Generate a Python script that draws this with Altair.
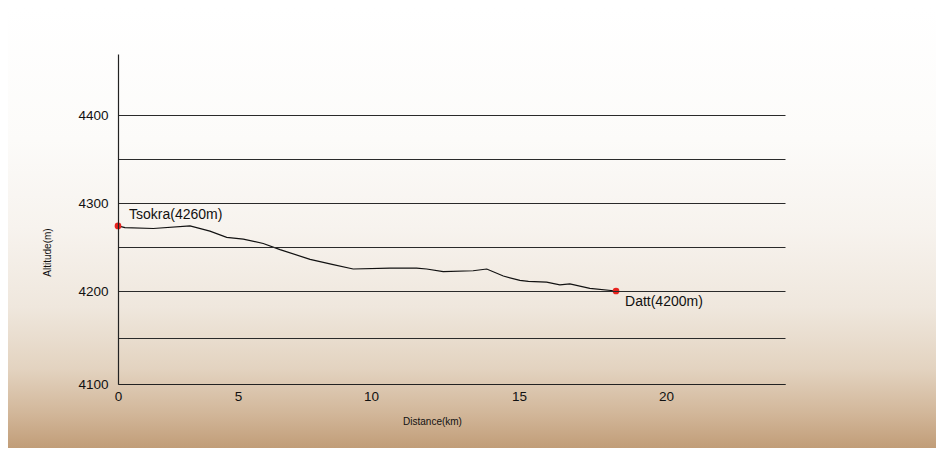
import altair as alt
import pandas as pd

# Altitude profile
distance_km = [0, 0.29, 1.47, 3.0, 3.83, 4.53, 5.2, 5.95, 6.58, 7.71, 8.58, 9.33,
               10.64, 11.54, 11.88, 12.44, 13.45, 13.91, 14.47, 15.03, 15.32, 15.94,
               16.39, 16.73, 17.41, 18.3]
altitude_m = [4274, 4272, 4271, 4274, 4268, 4261, 4259, 4254, 4247, 4236, 4230, 4225,
              4226, 4226, 4225, 4222, 4223, 4225, 4217, 4212, 4211, 4210,
              4207, 4208, 4203, 4200]

place_names = ["Tsokra(4260m)", "Datt(4200m)"]
place_km = [0, 18.3]
place_alt = [4274, 4200]

x_ticks = [0, 5, 10, 15, 20]
y_grid = [4100, 4150, 4200, 4250, 4300, 4350, 4400]

profile = pd.DataFrame({"km": distance_km, "alt": altitude_m})
places = pd.DataFrame({"name": place_names, "km": place_km, "alt": place_alt})

FONT = "Liberation Sans"

xscale = alt.Scale(domain=[0, 5, 10, 15, 20, 24], range=[0, 120, 253, 401, 548, 667],
                   nice=False, zero=False)
yscale = alt.Scale(domain=[4100, 4200, 4300, 4400, 4468], range=[330, 237, 149, 61, 0],
                   nice=False, zero=False)

bg = alt.Chart(pd.DataFrame({"a": [0]})).mark_rect(
    fill=alt.Gradient(
        gradient="linear", x1=0, x2=0, y1=0, y2=1,
        stops=[
            alt.GradientStop(color="#ffffff", offset=0),
            alt.GradientStop(color="#fcfbf9", offset=0.3),
            alt.GradientStop(color="#f7f3ee", offset=0.5),
            alt.GradientStop(color="#efe7dd", offset=0.68),
            alt.GradientStop(color="#e3d3c0", offset=0.82),
            alt.GradientStop(color="#d2b79a", offset=0.92),
            alt.GradientStop(color="#c19d78", offset=1.0),
        ],
    )
).encode(
    x=alt.value(-110), x2=alt.value(818), y=alt.value(-46), y2=alt.value(394)
)

line = alt.Chart(profile).mark_line(color="#111111", strokeWidth=1.2).encode(
    x=alt.X("km:Q", scale=xscale,
            axis=alt.Axis(values=x_ticks, title="Distance(km)", grid=False, ticks=False,
                          domainColor="#222222", domainWidth=1.2, zindex=1,
                          labelFontSize=13.5, labelColor="#111111", labelFont=FONT,
                          labelPadding=5, labelFlush=False,
                          titleFontSize=10, titleFont=FONT, titleFontWeight="normal",
                          titleColor="#111111", titleX=314, titleY=37,
                          titleBaseline="middle", titleAlign="center")),
    y=alt.Y("alt:Q", scale=yscale,
            axis=alt.Axis(values=y_grid, format="d",
                          labelExpr="datum.value % 100 == 0 ? datum.label : ''",
                          title="Altitude(m)", grid=True, gridColor="#2a2a2a",
                          gridWidth=1, ticks=False, zindex=1,
                          domainColor="#222222", domainWidth=1.2,
                          labelFontSize=13.5, labelColor="#111111", labelFont=FONT,
                          labelPadding=10,
                          titleFontSize=10, titleFont=FONT, titleFontWeight="normal",
                          titleColor="#111111", titleX=-71, titleY=198,
                          titleBaseline="middle", titleAlign="center")),
)

pts = alt.Chart(places).mark_circle(color="#e8231e", size=45, opacity=1).encode(
    x=alt.X("km:Q", scale=xscale), y=alt.Y("alt:Q", scale=yscale)
)

lbl_t = alt.Chart(places[places["name"] == place_names[0]]).mark_text(
    align="left", baseline="middle", dx=11, dy=-11, fontSize=14, font=FONT, color="#111111"
).encode(x=alt.X("km:Q", scale=xscale), y=alt.Y("alt:Q", scale=yscale), text="name:N")

lbl_d = alt.Chart(places[places["name"] == place_names[1]]).mark_text(
    align="left", baseline="middle", dx=9, dy=11, fontSize=14, font=FONT, color="#111111"
).encode(x=alt.X("km:Q", scale=xscale), y=alt.Y("alt:Q", scale=yscale), text="name:N")

chart = alt.layer(bg, line, pts, lbl_t, lbl_d).properties(
    width=668, height=330,
    autosize=alt.AutoSizeParams(type="none"),
    padding={"left": 110, "top": 46, "right": 150, "bottom": 64},
).configure_view(stroke=None).configure(background="white")

chart.save("out.html", embed_options={"renderer": "svg", "actions": False})
